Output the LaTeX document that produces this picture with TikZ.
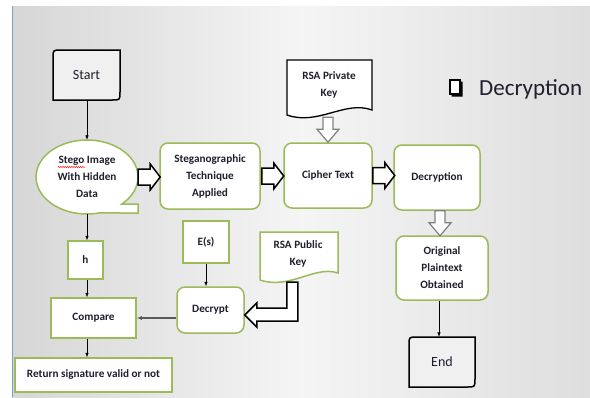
\documentclass[tikz,border=0pt]{standalone}
\usepackage{fontspec}
\setmainfont{Carlito}
\usetikzlibrary{arrows.meta,calc,decorations.pathmorphing,shapes.geometric}
\definecolor{gborder}{HTML}{9BBB59}
\definecolor{txt}{HTML}{1F1F2E}
\definecolor{termfill}{HTML}{F0F0F0}
\definecolor{edgeblue}{HTML}{7F9FCF}
\begin{document}
\begin{tikzpicture}[x=1pt,y=-1pt,
  lbl/.style={text=txt,font=\fontsize{11.2}{17}\selectfont\bfseries,align=center,inner sep=0pt},
  gbox/.style={draw=gborder,line width=1.5pt,fill=white},
  rbox/.style={gbox,rounded corners=8pt,lbl},
  sbox/.style={gbox,lbl},
  term/.style={draw=black,line width=1.5pt,fill=termfill},
  thin/.style={draw=black,line width=0.6pt,-{Latex[length=4.5pt,width=3.5pt]}},
  blk/.style={draw=black,line width=1.5pt,fill=white,line join=miter},
  gblk/.style={draw=black!50,line width=1.2pt,fill=white},
  hblock/.pic={\draw[blk] (0,-8) -- (12,-8) -- (12,-13) -- (22,0) -- (12,13) -- (12,8) -- (0,8) -- cycle;},
  vblock/.pic={\draw[gblk] (-5,0) -- (-5,12) -- (-11,12) -- (0,25) -- (11,12) -- (5,12) -- (5,0) -- cycle;}
]
\useasboundingbox (0,0) rectangle (590,397);
% background
\fill[white] (0,0) rectangle (590,397);
\shade[left color=black!16,right color=black!13,middle color=black!4] (12,6) rectangle (590,397);
\draw[edgeblue,line width=0.8pt] (12,6) -- (12,397);

% start / end terminals
\draw[term] (53,58) .. controls (53,50) .. (61,50) -- (120,50) -- (120,92) .. controls (120,100) .. (112,100) -- (53,100) -- cycle;
\node[inner sep=0pt,text=txt,font=\fontsize{14}{16}\selectfont,minimum width=67pt,minimum height=50pt] (start) at (86.5,75) {Start};
\draw[term] (409,345) .. controls (409,337) .. (417,337) -- (475,337) -- (475,379) .. controls (475,387) .. (467,387) -- (409,387) -- cycle;
\node[inner sep=0pt,text=txt,font=\fontsize{14}{16}\selectfont,minimum width=66pt,minimum height=50pt] (endn) at (442,362) {End};

% stego ellipse callout
\draw[gbox] (121.8,204.06) arc[start angle=47,end angle=-283.4,x radius=51,y radius=37] -- (138,213) -- (138,204) -- cycle;
\node[ellipse,lbl,minimum width=102pt,minimum height=74pt] (stego) at (87,177) {Stego Image\\With Hidden\\Data};
\draw[red,line width=0.4pt,decorate,decoration={snake,amplitude=0.7pt,segment length=2.2pt}] (58,167) -- (85,167);

% boxes
\node[rbox,minimum width=100pt,minimum height=66pt] (tech) at (210,176) {Steganographic\\Technique\\Applied};
\node[rbox,minimum width=88pt,minimum height=65pt] (cipher) at (328,175.5) {Cipher Text};
\node[rbox,minimum width=86pt,minimum height=65pt] (decr) at (437,177.5) {Decryption};
\node[rbox,minimum width=92pt,minimum height=64pt] (orig) at (442,268) {Original\\Plaintext\\Obtained};
\node[sbox,minimum width=35pt,minimum height=38pt] (h) at (85.5,260) {h};
\node[sbox,minimum width=85pt,minimum height=40pt] (compare) at (93.5,318) {Compare};
\node[sbox,minimum width=157pt,minimum height=34pt] (ret) at (93.5,375) {Return signature valid or not};
\node[sbox,minimum width=46pt,minimum height=42pt] (es) at (206,242) {E(s)};
\node[rbox,minimum width=67pt,minimum height=46pt] (decrypt) at (210.5,310) {Decrypt};

% document shapes
\draw[draw=black,line width=1.3pt,fill=white] (287,60) -- (372,60) -- (372,110) .. controls (345,100) and (318,126) .. (287,115) -- cycle;
\node[lbl] (priv) at (329,84.5) {RSA Private\\Key};
\draw[gbox] (260,232) -- (338,232) -- (338,273) .. controls (315,265) and (290,290) .. (260,280) -- cycle;
\node[lbl] (pub) at (298,253.5) {RSA Public\\Key};

% title
\draw[black,line width=1.1pt,fill=white] (450,80) rectangle (460,94);
\fill[black] (460,81.5) -- (462.5,81.5) -- (462.5,96.5) -- (451.5,96.5) -- (451.5,94) -- (460,94) -- cycle;
\node[anchor=base west,inner sep=0pt,text=txt,font=\fontsize{23}{27}\selectfont] (title) at (479,95.5) {Decryption};

% block arrows
\pic at (stego.east) {hblock};
\pic at ($(tech.east)+(1,0)$) {hblock};
\pic at (cipher.east) {hblock};
\pic at ($(cipher.north)+(0,-25)$) {vblock};
\pic at ($(decr.south)+(3,0)$) {vblock};
\draw[blk] ($(decrypt.east)+(0,5)$) -- ++(12,-12) -- ++(0,5) -- ++(30,0) -- ++(0,-26) -- ++(11,0) -- ++(0,39) -- ++(-41,0) -- ++(0,6) -- cycle;

% connectors
\draw[thin] (start.south -| stego.north) -- (stego.north);
\draw[thin] (stego.south) -- (h.north -| stego.south);
\draw[thin] (h.south -| stego.south) -- (compare.north -| stego.south);
\draw[thin] (compare.south -| stego.south) -- (ret.north -| stego.south);
\draw[thin] (es.south) -- (decrypt.north -| es.south);
\draw[thin] ($(orig.south)+(-3,0)$) -- ($(endn.north)+(-3,0)$);
\draw[draw=black!65,line width=1.2pt,-{Latex[length=5pt,width=4pt]}] (decrypt.west |- compare.east) -- (compare.east);
\end{tikzpicture}
\end{document}
